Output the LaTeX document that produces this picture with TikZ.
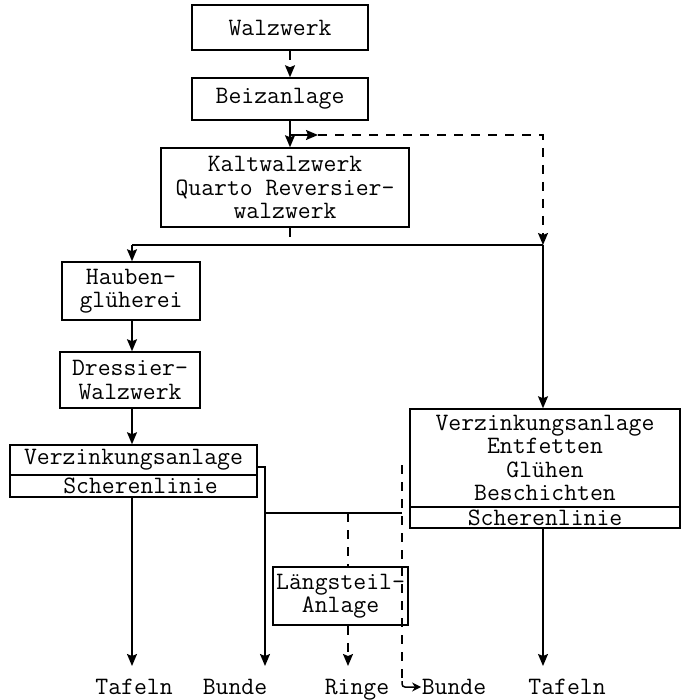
\documentclass[tikz,border=0pt]{standalone}
\usepackage{fontspec}
\usetikzlibrary{arrows.meta}

\begin{document}
\begin{tikzpicture}[x=1pt, y=-1pt, >={Stealth[length=12pt, width=10pt, inset=2pt]}, line width=1.5pt,
	box/.style={draw, inner sep=0pt, align=center, font=\ttfamily\addfontfeatures{FakeBold=0.6}\fontsize{25}{23.5}\selectfont},
	lbl/.style={inner sep=0pt, anchor=base, font=\ttfamily\addfontfeatures{FakeBold=0.6}\fontsize{25}{23.5}\selectfont},
	dsh/.style={dash pattern=on 9pt off 8pt}]

		\useasboundingbox (0,0) rectangle (683,700);

		\node[box, minimum width=176, minimum height=45] (walz) at (280,27.5) {Walzwerk};
		\node[box, minimum width=176, minimum height=42] (beiz) at (280,99) {Beizanlage};
		\node[box, minimum width=248, minimum height=79] (kalt) at (285,187.5) {Kaltwalzwerk\\Quarto Reversier-\\walzwerk};
		\node[box, minimum width=138, minimum height=58] (hauben) at (131,291) {Hauben-\\glüherei};
		\node[box, minimum width=140, minimum height=56] (dress) at (130,380) {Dressier-\\Walzwerk};
		\node[box, minimum width=247, minimum height=30] (verzL) at (133.5,460) {Verzinkungsanlage};
		\node[box, minimum width=247, minimum height=22] (scherL) at (133.5,486) {\hspace{14pt}Scherenlinie};
		\node[box, minimum width=270, minimum height=98] (verzR) at (545,458) {Verzinkungsanlage\\Entfetten\\Glühen\\Beschichten};
		\node[box, minimum width=270, minimum height=21] (scherR) at (545,517.5) {Scherenlinie};
		\node[box, minimum width=135, minimum height=58] (laengs) at (340.5,596) {Längsteil-\\Anlage};

		\node[lbl] (tafL) at (134,694) {Tafeln};
		\node[lbl] (bundeL) at (235,694) {Bunde};
		\node[lbl] (ringe) at (357,694) {Ringe};
		\node[lbl] (bundeR) at (454,694) {Bunde};
		\node[lbl] (tafR) at (567,694) {Tafeln};

		% junctions
		\coordinate (s1) at (290,135);
		\coordinate (r1) at (318,135);
		\coordinate (j1) at (132,245);
		\coordinate (j2) at (543,245);
		\coordinate (k1) at (265,467);
		\coordinate (j3) at (265,513);
		\coordinate (j4) at (402,513);
		\coordinate (c3) at (348,513);
		\coordinate (d1) at (402,465);
		\coordinate (d2) at (402,681);
		\coordinate (e) at (0,666);

		\draw[->, dsh] (walz.south -| s1) -- (beiz.north -| s1);
		\draw[->] (beiz.south -| s1) -- (kalt.north -| s1);
		\draw[->] (s1) -- (r1);
		\draw[->, dsh] (r1) -- (s1 -| j2) -- (j2);
		\draw[dsh] (kalt.south -| s1) -- (j1 -| s1);
		\draw (j1) -- (j2);
		\draw[->] (j2) -- (verzR.north -| j2);

		\draw[->] (j1) -- (hauben.north -| j1);
		\draw[->] (hauben.south -| j1) -- (dress.north -| j1);
		\draw[->] (dress.south -| j1) -- (verzL.north -| j1);
		\draw[->] (scherL.south -| j1) -- (j1 |- e);

		\draw[->] (verzL.east |- k1) -- (k1) -- (k1 |- e);
		\draw (j3) -- (j4);
		\draw[dsh] (c3) -- (laengs.north -| c3);
		\draw[->, dsh] (laengs.south -| c3) -- (c3 |- e);
		\draw[dsh] (d1) -- (d2);
		\draw[-{Stealth[length=9pt, width=9pt]}, rounded corners=3pt] (d2) |- ([yshift=7pt]bundeR.base west);

		\draw[->] (scherR.south -| j2) -- (j2 |- e);

\end{tikzpicture}
\end{document}
